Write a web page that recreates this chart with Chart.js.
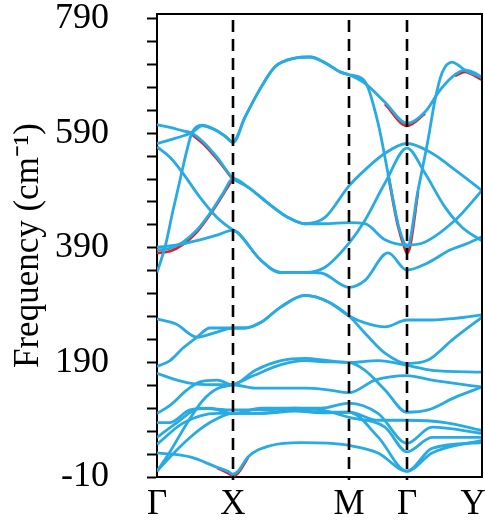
<!DOCTYPE html>
<html><head><meta charset="utf-8">
<script src="https://cdn.jsdelivr.net/npm/chart.js@4/dist/chart.umd.min.js"></script>
<style>html,body{margin:0;padding:0;background:#fff}</style>
</head><body>
<canvas id="c" width="485" height="527"></canvas>
<script>
// k-path positions of high-symmetry points and their labels
const kPoints = [0, 0.76, 1.92, 2.50, 3.25];
const kLabels = ['Γ', 'X', 'M', 'Γ', 'Y'];
// y tick values (every 40 cm-1) and the labelled ones
const yTicks = [-10,30,70,110,150,190,230,270,310,350,390,430,470,510,550,590,630,670,710,750,790];
const yLabelled = [-10,190,390,590,790];

// phonon bands, [k, frequency cm-1]  (blue)
const band01 = [[0,572],[.18,581],[.35,591],[.45,603],[.58,596],[.68,585],[.76,574],[.88,618],[1.04,670],[1.18,706],[1.38,721],[1.53,723],[1.68,713],[1.83,697],[1.92,692],[2.08,677],[2.28,644],[2.50,607],[2.68,627],[2.83,665],[2.98,692],[3.08,700],[3.18,695],[3.25,687]];
const band02 = [[0,605],[.13,600],[.26,594],[.35,590],[.46,575],[.60,548],[.76,511],[.91,496],[1.11,468],[1.31,443],[1.48,432],[1.68,432],[1.92,434],[2.08,432],[2.28,404],[2.50,395],[2.65,398],[2.98,438],[3.25,490]];
const band03 = [[0,566],[.13,548],[.26,520],[.43,478],[.60,443],[.76,421],[.81,416],[1.04,368],[1.24,347],[1.48,347],[1.68,356],[1.92,398],[2.08,438],[2.28,503],[2.50,564],[2.68,520],[2.88,461],[3.05,426],[3.25,402]];
const band04 = [[0,386],[.13,389],[.26,400],[.40,421],[.53,450],[.66,485],[.76,511],[.91,496],[1.11,468],[1.31,443],[1.48,432],[1.68,443],[1.92,498],[2.08,526],[2.28,555],[2.50,572],[2.75,555],[2.98,526],[3.25,490]];
const band05 = [[0,391],[.20,395],[.43,404],[.60,412],[.76,421],[.81,416],[1.04,368],[1.24,347],[1.48,347],[1.64,346],[1.92,321],[2.08,333],[2.31,381],[2.50,351],[2.70,363],[2.93,386],[3.08,396],[3.25,409]];
const band06 = [[0,347],[.08,391],[.16,455],[.23,508],[.30,561],[.35,591],[.45,604],[.58,596],[.68,585],[.76,574],[.88,618],[1.04,670],[1.18,706],[1.38,721],[1.53,723],[1.68,713],[1.83,697],[1.92,692],[2.08,680],[2.21,608],[2.31,520],[2.41,432],[2.48,395],[2.50,390],[2.61,490],[2.71,578],[2.78,648],[2.85,695],[2.95,714],[3.01,709],[3.08,700],[3.25,687]];
const band07 = [[0,266],[.19,257],[.40,234],[.60,243],[.76,250],[.88,250],[1.04,260],[1.24,287],[1.48,307],[1.71,296],[1.92,271],[2.08,259],[2.28,252],[2.50,264],[2.75,264],[2.98,267],[3.25,273]];
const band08 = [[0,183],[.13,193],[.26,215],[.40,234],[.53,250],[.76,250],[.88,250],[1.04,260],[1.24,287],[1.48,307],[1.71,296],[1.92,271],[2.08,241],[2.28,206],[2.50,188],[2.71,194],[2.95,229],[3.25,269]];
const band09 = [[0,171],[.20,159],[.40,152],[.60,151],[.76,151],[.98,145],[1.21,145],[1.48,145],[1.71,142],[1.92,137],[2.18,159],[2.50,167],[2.75,159],[3.25,147]];
const band10 = [[0,101],[.13,115],[.30,142],[.43,156],[.60,159],[.76,151],[.98,176],[1.24,193],[1.48,197],[1.71,193],[1.92,190],[2.21,193],[2.50,185],[2.75,176],[3.25,173]];
const band11 = [[0,0],[.13,34],[.30,84],[.46,124],[.60,144],[.76,151],[.98,168],[1.24,186],[1.48,193],[1.71,191],[1.92,190],[2.08,176],[2.28,142],[2.50,103],[2.71,107],[2.98,129],[3.25,147]];
const band12 = [[0,85],[.13,85],[.33,107],[.53,110],[.76,101],[1.04,110],[1.38,110],[1.64,107],[1.92,94],[2.28,77],[2.50,34],[2.75,59],[3.25,59]];
const band13 = [[0,59],[.20,85],[.43,110],[.76,107],[1.04,107],[1.38,110],[1.64,110],[1.92,119],[2.21,101],[2.50,49],[2.75,77],[3.25,66]];
const band14 = [[0,47],[.26,84],[.60,101],[.76,101],[1.04,101],[1.38,107],[1.64,103],[1.92,103],[2.21,89],[2.50,89],[2.88,85],[3.25,71]];
const band15 = [[0,32],[.33,25],[.60,7],[.71,0],[.76,-5],[.81,0],[.91,25],[1.14,45],[1.44,50],[1.71,49],[1.92,45],[2.21,32],[2.50,0],[2.75,32],[3.25,54]];
const band16 = [[0,0],[.13,25],[.33,59],[.53,85],[.76,101],[1.04,101],[1.38,105],[1.64,102],[1.92,103],[2.21,60],[2.50,0],[2.75,40],[3.25,50]];

// second calculation (red), where it departs from the blue one
const red01a = [[2.28,641],[2.50,603],[2.68,624]];
const red01b = [[2.98,690],[3.08,697],[3.18,690],[3.25,683]];
const red02 = [[.35,588],[.46,572],[.60,545],[.76,509]];
const red04 = [[0,381],[.13,384],[.26,396],[.40,418],[.53,448],[.66,483],[.76,511]];
const red06 = [[2.31,519],[2.41,428],[2.48,388],[2.50,381],[2.53,392],[2.61,488]];
const red15 = [[.60,6],[.71,-3],[.76,-8],[.81,-3],[.91,24]];

const blueBands = [band01,band02,band03,band04,band05,band06,band07,band08,band09,band10,band11,band12,band13,band14,band15,band16];
const redBands = [red01a,red01b,red02,red04,red06,red15];

const BLUE = 'rgb(40,170,226)';
const RED = 'rgb(226,32,40)';
const toXY = a => a.map(p => ({x:p[0], y:p[1]}));
const datasets = [];
redBands.forEach(b => datasets.push({data:toXY(b), borderColor:RED, borderWidth:2.8, pointRadius:0, cubicInterpolationMode:'monotone', order:2, fill:false}));
blueBands.forEach(b => datasets.push({data:toXY(b), borderColor:BLUE, borderWidth:2.8, pointRadius:0, cubicInterpolationMode:'monotone', order:1, fill:false}));

const frameAndDashes = {
  id:'frameAndDashes',
  afterDatasetsDraw(chart){
    const {ctx, chartArea:a, scales:{x}} = chart;
    ctx.save();
    ctx.strokeStyle = '#000';
    ctx.lineWidth = 2.6;
    ctx.setLineDash([12,7]);
    kPoints.slice(1,-1).forEach(k => {
      const px = Math.round(x.getPixelForValue(k));
      ctx.beginPath(); ctx.moveTo(px, a.top + 6); ctx.lineTo(px, a.bottom + 3); ctx.stroke();
    });
    ctx.setLineDash([]);
    ctx.lineWidth = 2;
    ctx.beginPath();
    ctx.moveTo(a.left, a.top); ctx.lineTo(a.right, a.top); ctx.lineTo(a.right, a.bottom);
    ctx.stroke();
    ctx.restore();
  }
};

const serif = 'Liberation Serif';
new Chart(document.getElementById('c'), {
  type:'line',
  data:{datasets},
  options:{
    responsive:false, animation:false, devicePixelRatio:1,
    layout:{padding:{left:0,right:3,top:14,bottom:0}},
    plugins:{legend:{display:false}, tooltip:{enabled:false}},
    scales:{
      x:{
        type:'linear', min:0, max:3.25,
        afterBuildTicks: s => { s.ticks = kPoints.map(v => ({value:v})); },
        afterFit: s => { s.height = 50; s.paddingLeft = 0; s.paddingRight = 0; },
        ticks:{autoSkip:false, maxRotation:0, padding:7, color:'#000',
          font:{family:serif, size:35},
          callback:(v,i) => i === kLabels.length-1 ? kLabels[i] + '\u2002' : kLabels[i]},
        grid:{display:true, drawOnChartArea:false, drawTicks:false},
        border:{display:true, color:'#000', width:2}
      },
      y:{
        type:'linear', min:-10, max:798,
        afterBuildTicks: s => { s.ticks = yTicks.map(v => ({value:v})); },
        afterFit: s => { s.width = 157; s.paddingTop = 0; s.paddingBottom = 0; },
        ticks:{autoSkip:false, padding:38, color:'#000',
          font:{family:serif, size:36},
          callback: v => yLabelled.includes(v) ? String(v) : ''},
        grid:{drawOnChartArea:false, drawTicks:true, tickLength:10, tickWidth:2, tickColor:'#000'},
        border:{display:true, color:'#000', width:2},
        title:{display:true, text:'Frequency (cm⁻¹)', color:'#000', font:{family:serif, size:35}, padding:{top:8,bottom:0}}
      }
    }
  },
  plugins:[frameAndDashes]
});
</script>
</body></html>
